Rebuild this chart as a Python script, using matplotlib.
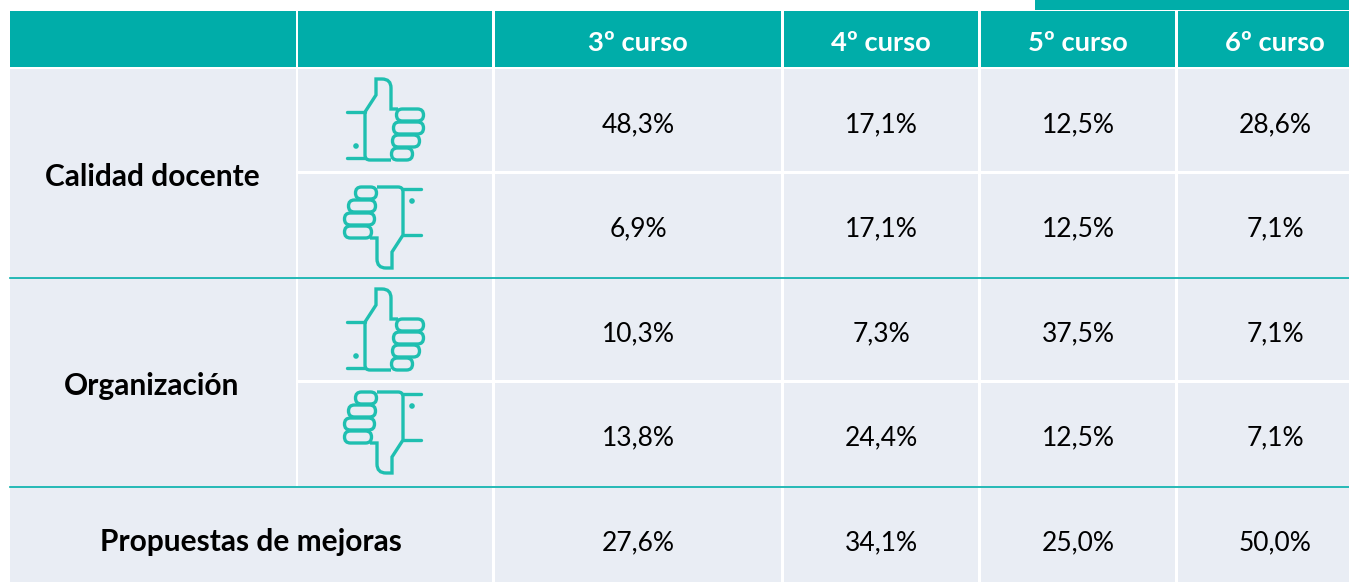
import matplotlib
matplotlib.use("Agg")
import matplotlib.pyplot as plt
from matplotlib.patches import Rectangle, FancyBboxPatch, PathPatch, Circle
from matplotlib.path import Path

# table content
cursos = ["3º curso", "4º curso", "5º curso", "6º curso"]
grupos = ["Calidad docente", "Organización", "Propuestas de mejoras"]
valores = [
    ["48,3%", "17,1%", "12,5%", "28,6%"],
    ["6,9%", "17,1%", "12,5%", "7,1%"],
    ["10,3%", "7,3%", "37,5%", "7,1%"],
    ["13,8%", "24,4%", "12,5%", "7,1%"],
    ["27,6%", "34,1%", "25,0%", "50,0%"],
]

TEAL = "#00ADA9"
LIGHT = "#E9EDF4"
ICON = "#1FBFB0"
FONT = "Lato"

# cell edges in pixels
col_x = [(495, 781), (784, 978), (981, 1175), (1178, 1349)]
row_y = [(69, 171), (174, 277), (278, 380), (383, 486), (488, 582)]
text_x = [638, 881, 1078, 1275]
text_y = [122, 226, 331, 435, 540]

fig = plt.figure(figsize=(13.49, 5.82), dpi=100)
ax = fig.add_axes([0, 0, 1, 1])
ax.set_xlim(0, 1349)
ax.set_ylim(582, 0)
ax.axis("off")


def cell(x0, x1, y0, y1, color):
    ax.add_patch(Rectangle((x0, y0), x1 - x0, y1 - y0, fc=color, ec="none"))


# header
cell(1035, 1349, 0, 9.5, TEAL)
cell(10, 296, 11, 67, TEAL)
cell(298, 492, 11, 67, TEAL)
for (x0, x1), tx, c in zip(col_x, text_x, cursos):
    cell(x0, x1, 11, 67, TEAL)
    ax.text(tx, 41, c, color="white", ha="center", va="center_baseline",
            fontsize=19.7, fontweight="bold", family=FONT)

# body
cell(10, 296, 69, 277, LIGHT)
cell(10, 296, 278, 486, LIGHT)
cell(10, 492, 488, 582, LIGHT)
for y0, y1 in row_y[:4]:
    cell(298, 492, y0, y1, LIGHT)
for i, (y0, y1) in enumerate(row_y):
    for j, (x0, x1) in enumerate(col_x):
        cell(x0, x1, y0, y1, LIGHT)
        ax.text(text_x[j], text_y[i], valores[i][j], color="black", ha="center",
                va="center_baseline", fontsize=19, family=FONT)

ax.plot([10, 1349], [277.5, 277.5], color=TEAL, lw=1.2)
ax.plot([10, 1349], [487, 487], color=TEAL, lw=1.2)

for txt, x, y in zip(grupos, [152, 152, 251], [175, 384, 540]):
    ax.text(x, y, txt, color="black", ha="center", va="center_baseline",
            fontsize=21.5, fontweight="bold", family=FONT)


# thumb icon, local units are px from the icon's top left
def thumb(ox, oy, down=False):
    w, h = 77, 81

    def p(x, y):
        if down:
            return (ox + w - x, oy + h - y)
        return (ox + x, oy + y)

    lw = 2.4
    hand = [(44, 81), (23, 81), (18, 81), (18, 76), (18, 33), (29, 16), (29, 0),
            (35, 0), (44, 0), (44, 9), (44, 30), (51, 30)]
    codes = [Path.MOVETO, Path.LINETO, Path.CURVE3, Path.CURVE3, Path.LINETO, Path.LINETO,
             Path.LINETO, Path.LINETO, Path.CURVE3, Path.CURVE3, Path.LINETO, Path.LINETO]
    ax.add_patch(PathPatch(Path([p(*v) for v in hand], codes), fc="none", ec=ICON, lw=lw))
    for a, b in [((0, 33), (18, 33)), ((0, 79), (18, 79))]:
        ax.plot([p(*a)[0], p(*b)[0]], [p(*a)[1], p(*b)[1]], color=ICON, lw=lw,
                solid_capstyle="round")
    ax.add_patch(Circle(p(9, 67), 2.8, fc=ICON, ec="none"))
    fingers = [(49, 30, 77, 42), (46, 43, 77, 55), (45, 56, 73, 68), (44, 69, 66, 81)]
    for x0, y0, x1, y1 in fingers:
        a, b = p(x0, y0), p(x1, y1)
        left, top = min(a[0], b[0]), min(a[1], b[1])
        ax.add_patch(FancyBboxPatch((left + 6.5, top + 6), x1 - x0 - 13, y1 - y0 - 12,
                                    boxstyle="round,pad=6,rounding_size=6",
                                    fc=LIGHT, ec=ICON, lw=lw))


thumb(347, 79)
thumb(344, 187, down=True)
thumb(347, 289)
thumb(344, 392, down=True)

fig.savefig("out.png", dpi=100)
